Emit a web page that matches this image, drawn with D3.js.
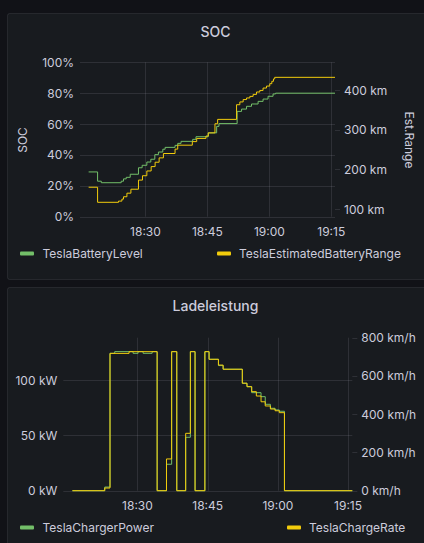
<!DOCTYPE html>
<html><head><meta charset="utf-8">
<script src="https://cdn.jsdelivr.net/npm/d3@7"></script>
<style>
html,body{margin:0;padding:0;background:#111217;}
svg{display:block;}
text{font-family:Inter,"Noto Sans",sans-serif;}
</style></head>
<body>
<script>
// ---------- DATA (minutes after 18:00) ----------
const xTickLabels = ["18:30","18:45","19:00","19:15"];
const xTickMinutes = [30,45,60,75];

const socTime  = [16.24,18.41,19.31,24.13,24.69,25.34,26.31,28.31,29.2,30.34,31.3,32.27,33.14,34.2,34.76,37.17,37.82,38.62,41.44,42.24,45.21,47.24,47.8,52.2,53.27,54.48,55.68,57.28,58.48,59.69,60.9,61.5,75.9];
const socLevel = [29,23,22,23,24.5,25.5,27.5,31.7,33.3,35.4,37.2,40.2,41.9,43.7,44.9,46.2,47.5,48.8,50.1,51.8,54.3,58.5,60.3,68.2,69.7,71.5,73,74.7,76.2,78,79.5,80,80];

const rangeTime = [16.24,18.41,23.48,24.3,24.69,25.51,26.48,28.31,29.28,30.34,31.38,32.34,33.31,34.35,37.17,37.82,41.35,42.41,44.65,45.21,46.83,47.48,52.06,52.86,53.66,54.48,55.28,56.07,56.89,57.69,58.48,59.31,60.1,60.6,61.0,61.3,75.9];
const rangeKm   = [155,117,120,125,131,140,150,173,184,196,207,218,229,240,251,261,270,278,284,292,315,326,363,370,376,380,384,389,395,399,405,410,416,422,428,432,432];

const powerTime = [16.1,23.0,24.13,25.14,29.06,30.13,31.2,33.13,34.2,36.2,37.3,38.4,40.3,41.3,42.3,44.4,45.3,47.3,48.3,52.4,53.4,54.4,56.4,57.3,58.4,59.4,60.3,61.4,75.9];
const powerKw   = [0,3.3,124.2,125.7,124.2,125.7,124.2,125.7,0,23.9,125.7,0,48.3,125.7,0,125.7,118.8,113.1,109.8,97.1,94,88.6,85,78.1,74.5,73,71.8,0,0];

const rateTime = [16.1,23.0,24.13,28.2,34.2,36.2,37.3,38.4,40.3,41.3,42.3,44.4,45.3,47.3,48.3,52.4,53.4,54.4,55.4,56.4,57.3,58.4,59.4,60.3,61.4,75.9];
const rateKmh  = [0,14,718,727,0,166,727,0,300,727,0,727,687,657,635,562,544,518,495,465,443,427,418,408,0,0];

const socTicks = [0,20,40,60,80,100];
const rangeTicks = [100,200,300,400];
const powerTicks = [0,50,100];
const rateTicks = [0,200,400,600,800];

// ---------- STYLE ----------
const W = 424, H = 543;
const GREEN = "#73bf69", YELLOW = "#f2cc0c";
const TXT = "#ccccdc", GRID = "rgba(204,204,220,0.12)";
const base = new Date(2023,0,1,18,0,0);
const toDate = m => new Date(base.getTime() + m*60000);

const svg = d3.select("body").append("svg").attr("width",W).attr("height",H);
svg.append("rect").attr("width",W).attr("height",H).attr("fill","#111217");

function panel(y0, h, title){
  svg.append("rect").attr("x",7.5).attr("y",y0+0.5).attr("width",W).attr("height",h)
    .attr("rx",2).attr("fill","#181b1f").attr("stroke","rgba(204,204,220,0.10)");
  svg.append("text").attr("x",215.5).attr("y",y0+18).attr("text-anchor","middle")
    .attr("dominant-baseline","central").attr("fill",TXT).attr("font-size",14).attr("font-weight",500).text(title);
}

const xDomain = [toDate(14.15), toDate(75.9)];

function chart(cfg){
  const x = d3.scaleTime().domain(xDomain).range([cfg.left, cfg.right]);
  const yL = d3.scaleLinear().domain(cfg.lDom).range([cfg.bottom, cfg.top]);
  const yR = d3.scaleLinear().domain(cfg.rDom).range([cfg.bottom, cfg.top]);
  const g = svg.append("g");
  // horizontal grid
  g.selectAll(".hg").data(cfg.lTicks).enter().append("line")
    .attr("x1",cfg.left).attr("x2",cfg.right)
    .attr("y1",d=>Math.round(yL(d))+0.5).attr("y2",d=>Math.round(yL(d))+0.5)
    .attr("stroke",GRID);
  // vertical grid
  g.selectAll(".vg").data(xTickMinutes).enter().append("line")
    .attr("x1",d=>Math.round(x(toDate(d)))+0.5).attr("x2",d=>Math.round(x(toDate(d)))+0.5)
    .attr("y1",cfg.top).attr("y2",cfg.bottom).attr("stroke",GRID);
  // left axis labels
  g.selectAll(".ll").data(cfg.lTicks).enter().append("text")
    .attr("x",cfg.left-6).attr("y",d=>yL(d)).attr("text-anchor","end")
    .attr("dominant-baseline","central").attr("fill",TXT).attr("font-size",12)
    .text(d=>d+cfg.lUnit);
  // right axis ticks & labels
  g.selectAll(".rt").data(cfg.rTicks).enter().append("line")
    .attr("x1",cfg.right).attr("x2",cfg.right+5)
    .attr("y1",d=>Math.round(yR(d))+0.5).attr("y2",d=>Math.round(yR(d))+0.5)
    .attr("stroke",GRID);
  g.selectAll(".rl").data(cfg.rTicks).enter().append("text")
    .attr("x",cfg.right+9).attr("y",d=>yR(d)).attr("text-anchor","start")
    .attr("dominant-baseline","central").attr("fill",TXT).attr("font-size",12)
    .text(d=>d+cfg.rUnit);
  // x labels
  g.selectAll(".xl").data(xTickMinutes).enter().append("text")
    .attr("x",d=>x(toDate(d))).attr("y",cfg.bottom+15).attr("text-anchor","middle")
    .attr("dominant-baseline","central").attr("fill",TXT).attr("font-size",12)
    .text((d,i)=>xTickLabels[i]);
  // lines
  const lineL = d3.line().x(d=>x(toDate(d[0]))).y(d=>yL(d[1])).curve(d3.curveStepAfter);
  const lineR = d3.line().x(d=>x(toDate(d[0]))).y(d=>yR(d[1])).curve(d3.curveStepAfter);
  g.append("path").attr("d",lineL(d3.zip(cfg.lT,cfg.lV))).attr("fill","none")
    .attr("stroke",GREEN).attr("stroke-width",1);
  g.append("path").attr("d",lineR(d3.zip(cfg.rT,cfg.rV))).attr("fill","none")
    .attr("stroke",YELLOW).attr("stroke-width",1);
  // legend
  const ly = cfg.legY;
  g.append("rect").attr("x",20).attr("y",ly-1.5).attr("width",14).attr("height",4).attr("rx",1).attr("fill",GREEN);
  g.append("text").attr("x",42.5).attr("y",ly).attr("dominant-baseline","central")
    .attr("fill",TXT).attr("font-size",12).text(cfg.lName);
  g.append("rect").attr("x",cfg.leg2x).attr("y",ly-1.5).attr("width",14).attr("height",4).attr("rx",1).attr("fill",YELLOW);
  g.append("text").attr("x",cfg.leg2x+22).attr("y",ly).attr("dominant-baseline","central")
    .attr("fill",TXT).attr("font-size",12).text(cfg.rName);
}

panel(13, 266, "SOC");
chart({left:80,right:335,top:62.3,bottom:216.7,lDom:[0,100],rDom:[80.7,469.9],
  lTicks:socTicks,rTicks:rangeTicks,lUnit:"%",rUnit:" km",
  lT:socTime,lV:socLevel,rT:rangeTime,rV:rangeKm,legY:253,leg2x:217,
  lName:"TeslaBatteryLevel",rName:"TeslaEstimatedBatteryRange"});
svg.append("text").attr("transform","translate(22,140) rotate(-90)").attr("text-anchor","middle")
  .attr("dominant-baseline","central").attr("fill",TXT).attr("font-size",12).text("SOC");
svg.append("text").attr("transform","translate(409,140) rotate(90)").attr("text-anchor","middle")
  .attr("dominant-baseline","central").attr("fill",TXT).attr("font-size",12).text("Est.Range");

panel(287, 270, "Ladeleistung");
chart({left:63.3,right:352.3,top:337.7,bottom:490.7,lDom:[0,138.3],rDom:[0,800],
  lTicks:powerTicks,rTicks:rateTicks,lUnit:" kW",rUnit:" km/h",
  lT:powerTime,lV:powerKw,rT:rateTime,rV:rateKmh,legY:527,leg2x:287,
  lName:"TeslaChargerPower",rName:"TeslaChargeRate"});
</script>
</body></html>
